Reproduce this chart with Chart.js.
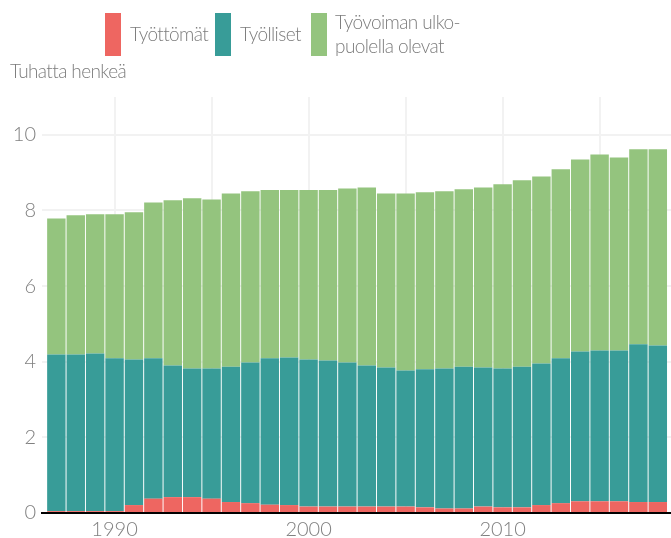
<!DOCTYPE html>
<html>
<head>
<meta charset="utf-8">
<script src="https://cdn.jsdelivr.net/npm/chart.js@4/dist/chart.umd.min.js"></script>
<style>
  body { margin: 0; background: #fff; }
  #wrap { position: relative; width: 671px; height: 538px; overflow: hidden; font-family: Lato, sans-serif; font-weight: 300; color: #7c7c7c; }
  #wrap canvas { position: absolute; left: 0; top: 0; }
  .box { position: absolute; top: 13px; width: 16px; height: 43px; }
  .lbl { position: absolute; font-size: 19px; line-height: 24px; letter-spacing: -0.6px; white-space: nowrap; }
</style>
</head>
<body>
<div id="wrap">
  <canvas id="myChart" width="671" height="538"></canvas>
  <div class="box" style="left:105px; background:#ee6661"></div>
  <div class="lbl" style="left:130px; top:22px">Työttömät</div>
  <div class="box" style="left:215px; background:#389c98"></div>
  <div class="lbl" style="left:240px; top:22px">Työlliset</div>
  <div class="box" style="left:311px; background:#94c47e"></div>
  <div class="lbl" style="left:335px; top:10px">Työvoiman ulko-<br>puolella olevat</div>
  <div class="lbl" style="left:10px; top:59px">Tuhatta henkeä</div>
</div>
<script>
// Years on the x axis, one bar per year
var years = [1987, 1988, 1989, 1990, 1991, 1992, 1993, 1994, 1995, 1996, 1997, 1998, 1999, 2000, 2001, 2002,
  2003, 2004, 2005, 2006, 2007, 2008, 2009, 2010, 2011, 2012, 2013, 2014, 2015, 2016, 2017, 2018];

// Values in thousands of people
var unemployed = [0.05, 0.05, 0.05, 0.05, 0.21, 0.38, 0.42, 0.42, 0.38, 0.29, 0.26, 0.22, 0.21, 0.17, 0.17, 0.17,
  0.17, 0.17, 0.17, 0.15, 0.12, 0.12, 0.17, 0.15, 0.15, 0.21, 0.26, 0.31, 0.31, 0.31, 0.29, 0.29];
var employed = [4.14, 4.14, 4.17, 4.04, 3.85, 3.71, 3.48, 3.40, 3.44, 3.58, 3.72, 3.87, 3.90, 3.89, 3.86, 3.81,
  3.73, 3.68, 3.60, 3.65, 3.70, 3.75, 3.68, 3.67, 3.72, 3.74, 3.83, 3.96, 3.99, 3.99, 4.17, 4.14];
var outside = [3.60, 3.68, 3.68, 3.81, 3.89, 4.12, 4.37, 4.50, 4.47, 4.58, 4.53, 4.45, 4.43, 4.48, 4.51, 4.60,
  4.71, 4.60, 4.68, 4.68, 4.69, 4.69, 4.76, 4.87, 4.93, 4.95, 5.00, 5.08, 5.18, 5.10, 5.16, 5.19];

// Tick labels and grid positions
var gridYears = [1990, 1995, 2000, 2005, 2010, 2015];
var labelYears = [1990, 2000, 2010];
var yTicks = [0, 2, 4, 6, 8, 10];

var tickFont = { family: 'Lato', size: 20, weight: 300 };
var gridColor = '#f2f2f2';

var ctx = document.getElementById('myChart').getContext('2d');
var myChart = new Chart(ctx, {
  type: 'bar',
  data: {
    labels: years,
    datasets: [
      { label: 'Työttömät', data: unemployed, backgroundColor: '#ee6661' },
      { label: 'Työlliset', data: employed, backgroundColor: '#389c98' },
      { label: 'Työvoiman ulkopuolella olevat', data: outside, backgroundColor: '#94c47e' }
    ]
  },
  options: {
    responsive: false,
    animation: false,
    events: [],
    layout: { padding: { left: 10, top: 97, right: 0, bottom: 0 } },
    datasets: { bar: { barPercentage: 0.95, categoryPercentage: 1, borderWidth: 0 } },
    plugins: {
      legend: { display: false },
      title: { display: false },
      tooltip: { enabled: false }
    },
    scales: {
      x: {
        type: 'linear',
        stacked: true,
        offset: false,
        min: 1986.26,
        max: 2018.68,
        afterBuildTicks: function (scale) {
          scale.ticks = gridYears.map(function (v) { return { value: v }; });
        },
        afterFit: function (scale) { scale.height = 25; },
        grid: { color: gridColor, lineWidth: 2, drawTicks: false, offset: false },
        border: { display: true, color: '#000', width: 2 },
        ticks: {
          font: tickFont,
          color: '#808080',
          padding: 5,
          maxRotation: 0,
          autoSkip: false,
          callback: function (value) {
            return labelYears.indexOf(value) >= 0 ? String(value) : '';
          }
        }
      },
      y: {
        stacked: true,
        min: 0,
        max: 11,
        afterBuildTicks: function (scale) {
          scale.ticks = yTicks.map(function (v) { return { value: v }; });
        },
        afterFit: function (scale) { scale.width = 32; },
        grid: {
          drawTicks: false,
          lineWidth: 2,
          color: function (c) { return c.tick && c.tick.value === 0 ? 'rgba(0,0,0,0)' : gridColor; }
        },
        border: { display: false },
        ticks: {
          font: tickFont,
          color: '#808080',
          padding: 6,
          callback: function (value) { return String(value); }
        }
      }
    }
  }
});
</script>
</body>
</html>
